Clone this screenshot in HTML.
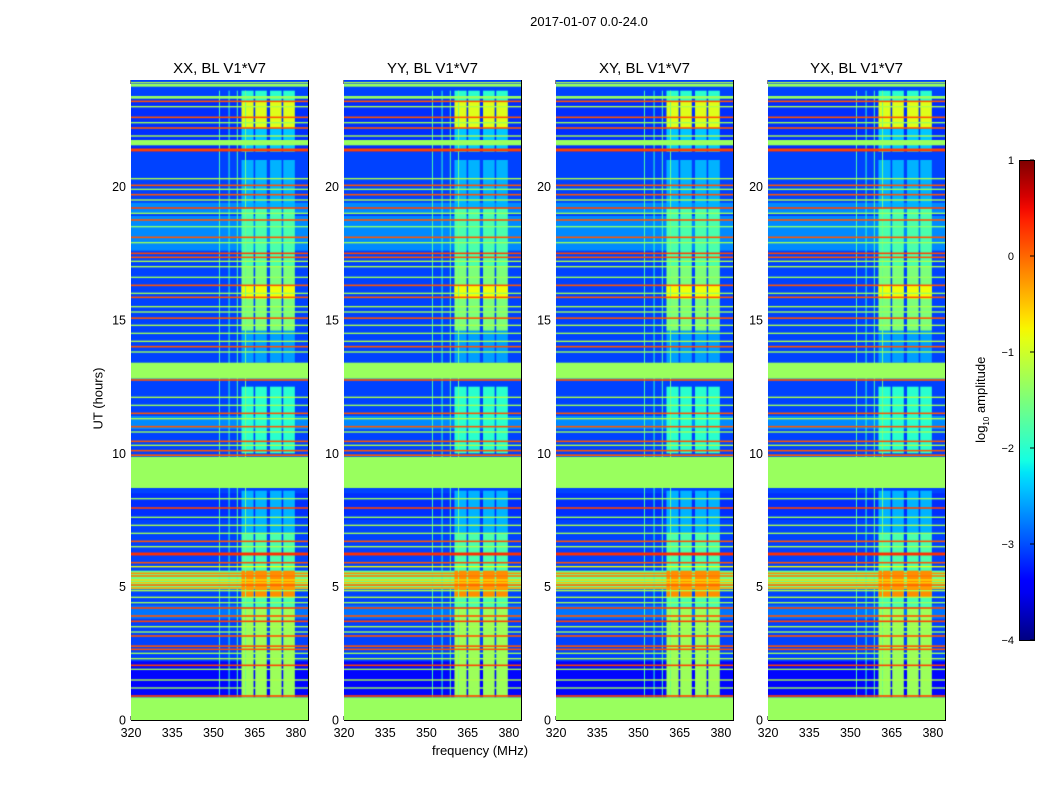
<!DOCTYPE html>
<html><head><meta charset="utf-8">
<style>
body{margin:0;background:#fff;width:1050px;height:800px;position:relative;overflow:hidden;font-family:"Liberation Sans",sans-serif;}
.t{position:absolute;white-space:nowrap;color:#000;}
canvas{position:absolute;}
</style></head>
<body>
<div class="t" style="left:0;width:1178px;text-align:center;top:14px;font-size:13px;">2017-01-07 0.0-24.0</div>
<div class="t" style="left:432px;top:743px;font-size:13px;">frequency (MHz)</div>
<div class="t" style="left:58px;top:391px;font-size:13px;transform:rotate(-90deg);width:80px;text-align:center;">UT (hours)</div>
<div class="t" style="left:932px;top:391px;font-size:13px;transform:rotate(-90deg);width:100px;text-align:center;">log<sub style="font-size:8px">10</sub> amplitude</div>
<svg id="ov" width="1050" height="800" style="position:absolute;left:0;top:0"></svg>
<script>
// ---- data ----
const panelTitles = ["XX, BL V1*V7","YY, BL V1*V7","XY, BL V1*V7","YX, BL V1*V7"];
const xTicks = [320,335,350,365,380];
const yTicks = [0,5,10,15,20];
const cbTicks = [1,0,-1,-2,-3,-4];
// background level segments [startHour,endHour,log10 amp]
const bgSegments = [[0,24,-3.05],[0.85,2.2,-3.35],[17.6,18.9,-2.7],[10.9,11.4,-2.7],[3.8,4.3,-2.8],[19.0,19.4,-2.7],[21.3,23.3,-3.15],[7.5,8.5,-3.15],[4.9,5.6,-1.6]];
// RFI frequency columns [startMHz,endMHz]
const rfiColumns = [[360.2,364.6],[365.2,369.4],[370.6,374.8],[375.4,379.6]];
// RFI column activity over time [startHour,endHour,log10 amp]
const rfiActivity = [[0.85,4.2,-1.3],[4.2,7.0,-1.8],[4.6,5.6,-0.2],[7.0,8.6,-2.5],[10.0,12.5,-2.0],[13.4,14.6,-2.6],[14.6,17.0,-1.5],[15.8,16.3,-0.8],[17.0,19.2,-1.8],[19.2,21.0,-2.5],[21.3,22.2,-2.4],[22.2,23.2,-0.9],[23.2,23.6,-2.0]];
// thin vertical lines [MHz, log10 amp]
const vLines = [[352,-1.8],[355.5,-2.0],[358.5,-1.8],[361.5,-1.6]];
// flat (flagged) green blocks [start,end,value]
const flatBlocks = [[0,0.85,-1.32],[8.7,9.87,-1.32],[12.8,13.4,-1.32],[21.55,21.75,-1.32],[23.3,23.4,-1.32],[23.75,23.85,-1.32]];
// orange/red horizontal lines [hour, value]
const redLines = [[23.2,0.1],[22.6,0.1],[22.2,0.1],[21.35,0.2],[21.4,0.2],[20.05,0.1],[19.7,0.1],[19.2,0.2],[18.75,0.1],[18.1,0.1],[17.5,0.2],[17.35,0.1],[16.3,0.1],[15.85,0.1],[15.07,0.1],[14.0,0.1],[13.15,0.1],[12.75,0.1],[11.5,0.1],[11.0,0.1],[10.45,0.1],[10.1,0.1],[9.93,0.1],[7.95,0.2],[6.7,0.1],[6.25,0.3],[6.2,0.3],[5.9,0.1],[5.5,-0.2],[5.4,-0.1],[5.06,0.0],[4.95,-0.3],[4.2,0.2],[3.9,0.1],[3.7,0.2],[3.15,0.1],[2.77,0.1],[2.65,0.1],[2.05,0.2],[0.9,0.2]];
// yellow-green horizontal lines [hour, value]
const greenLines = [[23.9,-1.2],[23.0,-1.2],[22.4,-1.3],[21.9,-1.2],[20.3,-1.2],[19.9,-1.3],[19.5,-1.2],[19.0,-1.3],[18.5,-1.4],[17.9,-1.3],[17.2,-1.2],[17.0,-1.2],[16.6,-1.3],[16.0,-1.3],[15.5,-1.2],[15.3,-1.3],[14.8,-1.2],[14.5,-1.3],[14.2,-1.2],[13.8,-1.3],[12.1,-1.2],[11.8,-1.3],[11.3,-1.2],[10.8,-1.3],[10.3,-1.2],[8.3,-1.3],[7.6,-1.3],[7.3,-1.2],[7.0,-1.3],[6.5,-1.2],[5.75,-0.8],[5.25,-0.6],[5.15,-0.5],[4.85,-1.2],[4.6,-1.2],[4.4,-1.3],[3.5,-1.2],[3.3,-1.3],[2.5,-1.3],[2.3,-1.2],[1.9,-1.3],[1.5,-1.2],[1.2,-1.3]];

const panelsX = [131,344,556,768];
const PW=177, PT=80, PH=640, F0=320, F1=384.4, T0=0, T1=24;
function xs(f){return (f-F0)/(F1-F0)*PW;}
function ys(h){return PH-(h-T0)/(T1-T0)*PH;}
const JR=[[0,0],[0.35,0],[0.66,1],[0.89,1],[1,0.5]];
const JG=[[0,0],[0.125,0],[0.375,1],[0.64,1],[0.91,0],[1,0]];
const JB=[[0,0.5],[0.11,1],[0.34,1],[0.65,0],[1,0]];
function seg(p,t){for(let k=1;k<p.length;k++){if(t<=p[k][0]){const a=p[k-1],b=p[k];return a[1]+(b[1]-a[1])*(t-a[0])/(b[0]-a[0]);}}return p[p.length-1][1];}
function jet(v){const t=Math.max(0,Math.min(1,(v+4)/5));
 return [Math.round(seg(JR,t)*255),Math.round(seg(JG,t)*255),Math.round(seg(JB,t)*255)];}

function drawPanel(i){
 const cv=document.createElement('canvas');
 cv.width=PW;cv.height=PH;
 cv.style.left=panelsX[i]+'px';cv.style.top=PT+'px';
 
 
 document.body.appendChild(cv);
 const ctx=cv.getContext('2d');
 const rect=(x0,y0,x1,y1,v)=>{const c=jet(v);ctx.fillStyle=`rgb(${c[0]},${c[1]},${c[2]})`;ctx.fillRect(x0,y0,x1-x0,y1-y0);};
 bgSegments.forEach(s=>rect(0,ys(s[1]),PW,ys(s[0]),s[2]));
 rfiActivity.forEach(a=>rfiColumns.forEach(c=>rect(xs(c[0]),ys(a[1]),xs(c[1]),ys(a[0]),a[2])));
 vLines.forEach(l=>rect(xs(l[0]),ys(23.6),xs(l[0])+1,ys(0.85),l[1]));
 greenLines.forEach(l=>rect(0,ys(l[0])-0.7,PW,ys(l[0])+0.7,l[1]));
 redLines.forEach(l=>rect(0,ys(l[0])-0.8,PW,ys(l[0])+0.8,l[1]));
 flatBlocks.forEach(b=>rect(0,ys(b[1]),PW,ys(b[0]),b[2]));
}
panelTitles.forEach((t,i)=>drawPanel(i));

const svg=document.getElementById('ov');const NS='http://www.w3.org/2000/svg';
function el(tag,attrs,txt){const e=document.createElementNS(NS,tag);for(const k in attrs)e.setAttribute(k,attrs[k]);if(txt!==undefined)e.textContent=txt;svg.appendChild(e);return e;}
panelTitles.forEach((t,i)=>{
 const x0=panelsX[i];
 const f=el('rect',{x:x0+0.5,y:PT+0.5,width:PW,height:PH,fill:'none',stroke:'#000'});
 
 
 const tt=el('text',{x:x0+PW/2,y:73,'text-anchor':'middle','font-size':15,'font-family':'Liberation Sans'},t);
 
 
 xTicks.forEach(v=>{const x=x0+xs(v);
  el('line',{x1:x,x2:x,y1:PT+PH,y2:PT+PH-4,stroke:'#000'});
  el('line',{x1:x,x2:x,y1:PT,y2:PT+4,stroke:'#000'});
  const l=el('text',{x:x,y:PT+PH+17,'text-anchor':'middle','font-size':12.5,'font-family':'Liberation Sans'},v);
  
  });
 yTicks.forEach(v=>{const y=PT+ys(v);
  el('line',{x1:x0,x2:x0+4,y1:y,y2:y,stroke:'#000'});
  el('line',{x1:x0+PW,x2:x0+PW-4,y1:y,y2:y,stroke:'#000'});
  const l=el('text',{x:x0-5,y:y+4.5,'text-anchor':'end','font-size':12.5,'font-family':'Liberation Sans'},v);
  
  });
});
// colorbar
const CX=1019,CW=15,CT=160,CH=480;
const defs=el('defs',{});const g=document.createElementNS(NS,'linearGradient');
g.setAttribute('id','jg');g.setAttribute('x1','0');g.setAttribute('y1','1');g.setAttribute('x2','0');g.setAttribute('y2','0');defs.appendChild(g);
for(let k=0;k<=40;k++){const c=jet(-4+5*k/40);const s=document.createElementNS(NS,'stop');s.setAttribute('offset',k/40);s.setAttribute('stop-color',`rgb(${c})`);g.appendChild(s);}
const cb=el('rect',{x:CX+0.5,y:CT+0.5,width:CW,height:CH,fill:'url(#jg)',stroke:'#000'});


cbTicks.forEach(v=>{const y=CT+(1-v)/5*CH;
 el('line',{x1:CX+CW-4,x2:CX+CW,y1:y,y2:y,stroke:'#000'});
 const l=el('text',{x:CX-5,y:y+4,'text-anchor':'end','font-size':11,'font-family':'Liberation Sans'},v<0?'\u2212'+(-v):v);
 
 });
</script>
</body></html>
